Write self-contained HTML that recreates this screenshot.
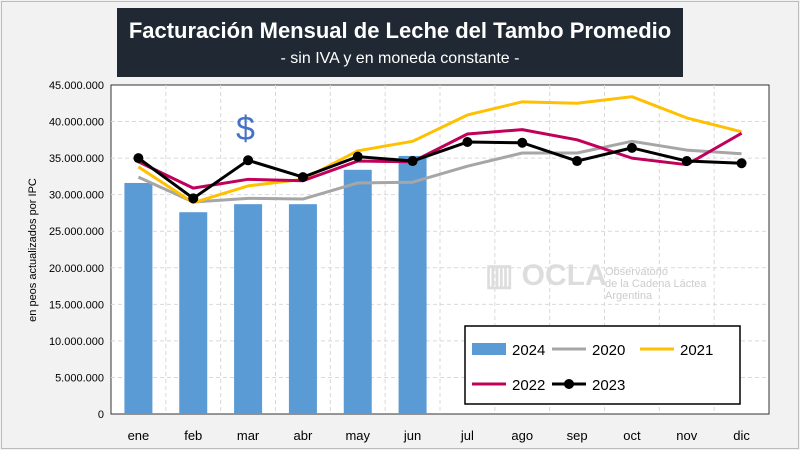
<!DOCTYPE html>
<html><head><meta charset="utf-8"><style>
body{margin:0;width:800px;height:450px;background:#f2f2f2;font-family:"Liberation Sans",sans-serif;overflow:hidden}
#frame{position:absolute;left:1px;top:1px;width:796px;height:446px;border:1px solid #bbb}
#title{position:absolute;left:117px;top:8px;width:566px;height:69px;background:#1f2833;color:#fff;text-align:center}
</style></head><body>
<div id="frame"></div>
<div id="title">
<div style="font-size:22px;font-weight:bold;margin-top:10px">Facturación Mensual de Leche del Tambo Promedio</div>
<div style="font-size:16px;margin-top:6px">- sin IVA y en moneda constante -</div>
</div>
<svg id="c" width="800" height="450" style="position:absolute;left:0;top:0"></svg>
<script>
const months=["ene","feb","mar","abr","may","jun","jul","ago","sep","oct","nov","dic"];
const yTicks=[0,5,10,15,20,25,30,35,40,45];
const tickLabels=["0","5.000.000","10.000.000","15.000.000","20.000.000","25.000.000","30.000.000","35.000.000","40.000.000","45.000.000"];
const s2024=[31.6,27.6,28.7,28.7,33.4,35.3];
const s2020=[32.4,29.0,29.5,29.4,31.6,31.7,33.9,35.7,35.7,37.3,36.1,35.6];
const s2021=[33.8,28.9,31.2,32.1,36.0,37.3,40.9,42.7,42.5,43.4,40.5,38.6];
const s2022=[34.5,30.9,32.1,31.9,34.6,34.5,38.3,38.9,37.5,35.0,34.1,38.4];
const s2023=[35.0,29.5,34.7,32.4,35.2,34.6,37.2,37.1,34.6,36.4,34.6,34.3];
const L=111,R=769,T=85,B=414;
const bw=(R-L)/12;
const X=i=>L+bw*(i+0.5), Y=v=>B-(v/45)*(B-T);
const svg=document.getElementById('c');const NS="http://www.w3.org/2000/svg";
function el(t,a,p){const e=document.createElementNS(NS,t);for(const k in a)e.setAttribute(k,a[k]);(p||svg).appendChild(e);return e;}
const bg=el('rect',{x:L,y:T,width:R-L,height:B-T,fill:'#fff',stroke:'#333','stroke-width':1});


yTicks.forEach((t,i)=>{
 if(t>0&&t<45){const g=el('line',{x1:L,x2:R,y1:Y(t),y2:Y(t),stroke:'#d9d9d9','stroke-dasharray':'4,3'});
 
 }
 const tx=el('text',{x:104,y:Y(t)+4,'text-anchor':'end','font-size':11,fill:'#000'});tx.textContent=tickLabels[i];
 
 
});
months.forEach((m,i)=>{
 if(i>0){const g=el('line',{x1:L+bw*i,x2:L+bw*i,y1:T,y2:B,stroke:'#d9d9d9','stroke-dasharray':'4,3'});
 
 }
 const tx=el('text',{x:X(i),y:440,'text-anchor':'middle','font-size':13,fill:'#000'});tx.textContent=m;
 
 
});
const yt=el('text',{transform:'translate(36,250) rotate(-90)','text-anchor':'middle','font-size':11});yt.textContent='en peos actualizados por IPC';


const wm=el('text',{x:485,y:285,'font-size':30,fill:'#ddd','font-weight':'bold'});wm.textContent='▥ OCLA';


const wm2=el('text',{x:605,y:275,'font-size':11,fill:'#ccc'});wm2.textContent='Observatorio';


const wm3=el('text',{x:605,y:287,'font-size':11,fill:'#ccc'});wm3.textContent='de la Cadena Láctea';


const wm4=el('text',{x:605,y:299,'font-size':11,fill:'#ccc'});wm4.textContent='Argentina';


const dol=el('text',{x:236,y:140,'font-size':34,fill:'#4472c4'});dol.textContent='$';


s2024.forEach((v,i)=>{const r=el('rect',{x:X(i)-14,y:Y(v),width:28,height:B-Y(v),fill:'#5b9bd5'});
 
 });
function line(d,c,name,mk){
 const p=el('polyline',{points:d.map((v,i)=>X(i)+','+Y(v)).join(' '),fill:'none',stroke:c,'stroke-width':3,'stroke-linejoin':'round'});
 
 
 if(mk)d.forEach((v,i)=>{const m=el('circle',{cx:X(i),cy:Y(v),r:5,fill:'#000'});
  
  });
}
line(s2020,'#a6a6a6','line-2020');line(s2021,'#ffc000','line-2021');line(s2022,'#c0005a','line-2022');line(s2023,'#000','line-2023',true);
const lg=el('rect',{x:465,y:326,width:275,height:78,fill:'#fff',stroke:'#000','stroke-width':1.5});


function le(x,y,label,c,type){
 if(type==='bar'){el('rect',{x:x,y:y-6,width:34,height:12,fill:c});}
 else{el('line',{x1:x,x2:x+34,y1:y,y2:y,stroke:c,'stroke-width':3});if(type==='mk')el('circle',{cx:x+17,cy:y,r:5,fill:c});}
 const t=el('text',{x:x+40,y:y+6,'font-size':15});t.textContent=label;
 
 
}
le(472,349,'2024','#5b9bd5','bar');le(552,349,'2020','#a6a6a6');le(640,349,'2021','#ffc000');
le(472,384,'2022','#c0005a');le(552,384,'2023','#000','mk');
</script></body></html>
